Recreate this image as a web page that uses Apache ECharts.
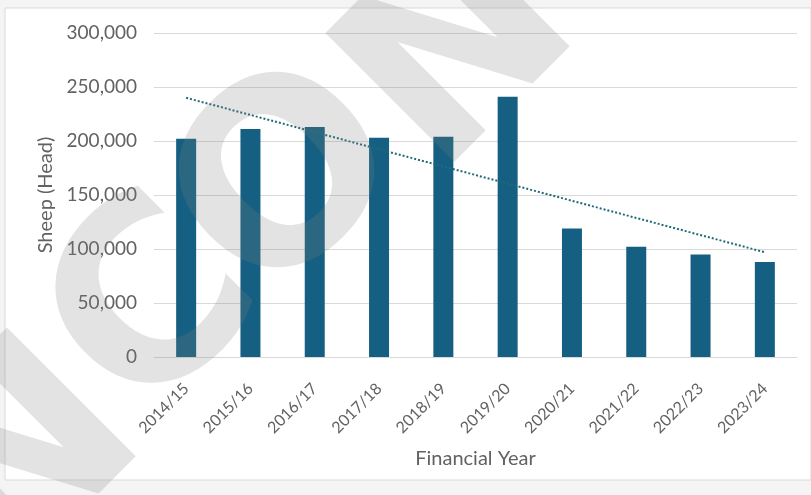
<!DOCTYPE html>
<html>
<head>
<meta charset="utf-8">
<script src="https://cdn.jsdelivr.net/npm/echarts@6/dist/echarts.min.js"></script>
<style>
html,body{margin:0;padding:0;background:#f4f4f4;}
#chart{width:811px;height:495px;}
</style>
</head>
<body>
<div id="chart"></div>
<script>
const categories = ['2014/15','2015/16','2016/17','2017/18','2018/19','2019/20','2020/21','2021/22','2022/23','2023/24'];
const sheepHead = [202000, 211000, 213000, 203000, 204000, 241000, 119000, 102000, 95000, 88000];
const trendStart = 240000;
const trendEnd = 97000;
const yTicks = [0, 50000, 100000, 150000, 200000, 250000, 300000];

const trendData = categories.map((c, i) => i === 0 ? trendStart : (i === categories.length - 1 ? trendEnd : null));

// watermark letters (decoration only)
const wmLetters = ['N', 'C', 'O', 'N'];
const wmCenters = [[32, 468], [160, 315], [295, 188], [466, 58]];

const chart = echarts.init(document.getElementById('chart'));
const font = 'Lato';
const textColor = '#626262';
const graphics = [
  { type: 'rect', z: -10, shape: { x: 5, y: 8, width: 806, height: 472 },
    style: { fill: '#ffffff', stroke: '#d9d9d9', lineWidth: 1 }, silent: true }
];
wmLetters.forEach((ch, i) => {
  graphics.push({ type: 'text', z: 100, x: wmCenters[i][0], y: wmCenters[i][1], rotation: Math.PI / 4,
    style: { text: ch, fontFamily: 'DejaVu Sans', fontWeight: 'bold', fontSize: 250,
      fill: 'rgba(128,128,128,0.22)', align: 'center', verticalAlign: 'middle' }, silent: true });
});
chart.setOption({
  animation: false,
  backgroundColor: '#f4f4f4',
  graphic: graphics,
  grid: { left: 154, right: 14, top: 33, bottom: 138, containLabel: false },
  xAxis: {
    type: 'category',
    data: categories,
    name: 'Financial Year',
    nameLocation: 'middle',
    nameGap: 92,
    nameTextStyle: { color: textColor, fontSize: 20, fontFamily: font },
    axisLine: { lineStyle: { color: '#d9d9d9' } },
    axisTick: { show: false },
    axisLabel: { rotate: 45, color: textColor, fontSize: 16, fontFamily: font, margin: 29, interval: 0 }
  },
  yAxis: {
    type: 'value',
    min: yTicks[0],
    max: yTicks[yTicks.length - 1],
    interval: yTicks[1] - yTicks[0],
    name: 'Sheep (Head)',
    nameLocation: 'middle',
    nameGap: 97,
    nameTextStyle: { color: textColor, fontSize: 20, fontFamily: font },
    axisLine: { show: false },
    axisTick: { show: false },
    splitLine: { lineStyle: { color: '#d9d9d9', width: 1 } },
    axisLabel: { color: textColor, fontSize: 19, fontFamily: font, margin: 17,
      formatter: v => v.toLocaleString('en-US') }
  },
  series: [
    { type: 'bar', data: sheepHead, barWidth: 20, itemStyle: { color: '#156082' } },
    { type: 'line', data: trendData, connectNulls: true, symbol: 'none',
      lineStyle: { color: '#1f6a78', width: 2, type: [2, 2] }, z: 5 }
  ]
});
</script>
</body>
</html>
